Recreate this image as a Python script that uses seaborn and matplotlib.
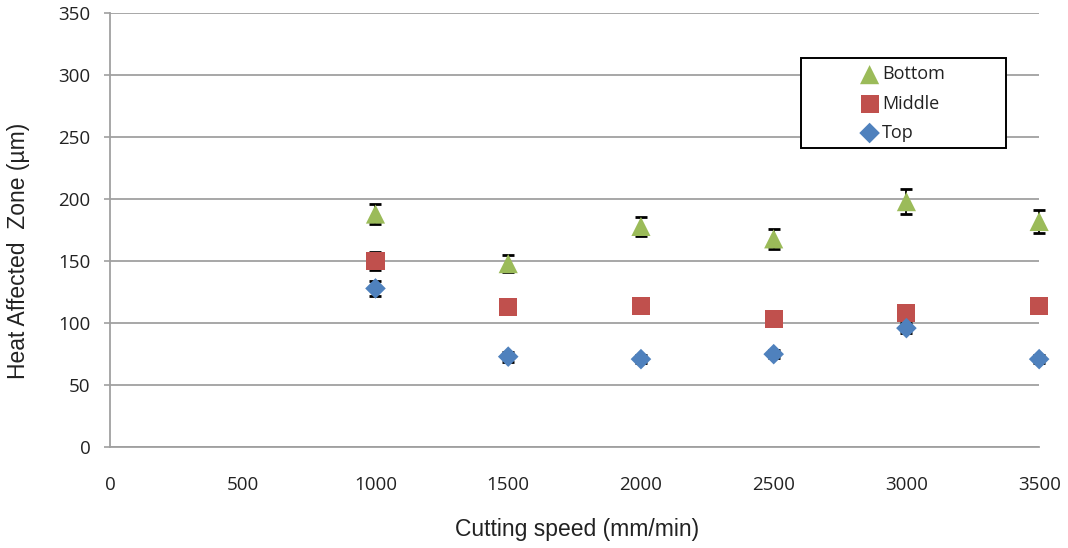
import seaborn as sns
import pandas as pd
import matplotlib.pyplot as plt
from matplotlib.patches import Rectangle

# Data
speed = [1000, 1500, 2000, 2500, 3000, 3500]
bottom = [188, 148, 178, 168, 198, 182]
bottom_err = [8, 7, 8, 8, 10, 9]
middle = [150, 113, 114, 103, 108, 114]
middle_err = [7, 3, 3, 3, 3, 3]
top = [128, 73, 71, 75, 96, 71]
top_err = [6, 4, 3, 3, 4, 3]

series_names = ['Bottom', 'Middle', 'Top']
colors = {'Bottom': '#9BBB59', 'Middle': '#C0504D', 'Top': '#4F81BD'}
markers = {'Bottom': '^', 'Middle': 's', 'Top': 'D'}
sizes = {'Bottom': 190, 'Middle': 170, 'Top': 110}

df = pd.DataFrame({
    'speed': speed * 3,
    'haz': bottom + middle + top,
    'err': bottom_err + middle_err + top_err,
    'series': ['Bottom'] * 6 + ['Middle'] * 6 + ['Top'] * 6,
})

sns.set_style('white')
plt.rcParams['font.family'] = ['Open Sans', 'DejaVu Sans']

fig = plt.figure(figsize=(10.68, 5.48), dpi=100)
ax = fig.add_axes([0.103, 0.184, 0.870, 0.792])

# error bars behind markers
for name in series_names:
    d = df[df['series'] == name]
    ax.errorbar(d['speed'], d['haz'], yerr=d['err'], fmt='none',
                ecolor='black', elinewidth=1.3, capsize=4.5, capthick=2, zorder=2)

for name in series_names:
    d = df[df['series'] == name]
    sns.scatterplot(data=d, x='speed', y='haz', marker=markers[name],
                    color=colors[name], s=sizes[name], edgecolor='none',
                    label=name, ax=ax, zorder=3)

for art in ax.collections + ax.lines:
    art.set_clip_on(False)

ax.set_xlim(0, 3500)
ax.set_ylim(0, 350)
ax.set_xticks(range(0, 3501, 500))
ax.set_yticks(range(0, 351, 50))
ax.grid(axis='y', color='#a0a0a0', linewidth=1.3)
ax.set_axisbelow(True)

for s in ['top', 'right']:
    ax.spines[s].set_visible(False)
for s in ['left', 'bottom']:
    ax.spines[s].set_color('#a0a0a0')
    ax.spines[s].set_linewidth(1.3)

ax.tick_params(axis='y', left=True, length=4, width=1.2, color='#a0a0a0',
               labelsize=13.5, pad=10, labelcolor='#222222')
ax.tick_params(axis='x', bottom=False, labelsize=13.5, pad=17, labelcolor='#222222')

ax.set_xlabel('Cutting speed (mm/min)', fontsize=16.5, family='Liberation Sans',
              color='#222222')
ax.set_ylabel('Heat Affected  Zone (\u00b5m)', fontsize=16.5, family='Liberation Sans',
              color='#222222')
ax.xaxis.set_label_coords(0.503, -0.163)
ax.yaxis.set_label_coords(-0.086, 0.453)

# legend box (drawn separately so it can be wider than its entries)
ax.add_patch(Rectangle((0.744, 0.689), 0.2205, 0.207, transform=ax.transAxes,
                       facecolor='white', edgecolor='black', linewidth=1.4,
                       zorder=5, clip_on=False))
leg = ax.legend(loc='upper left', bbox_to_anchor=(0.80, 0.888), frameon=False,
                fontsize=13, handletextpad=0.0, borderpad=0.2, labelspacing=0.62,
                handlelength=1.4, borderaxespad=0)
leg.set_zorder(6)
for t in leg.get_texts():
    t.set_color('#222222')

fig.savefig('out.png', dpi=100)
